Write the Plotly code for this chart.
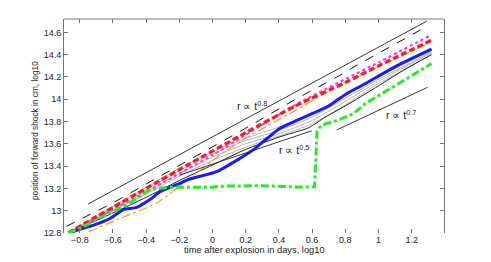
import plotly.graph_objects as go

# ---- data (log10 days, log10 cm) ----
red_x = [-0.87, -0.72, -0.6, -0.4, -0.15, 0.2, 0.5, 0.8, 1.0, 1.32]
red_y = [12.80, 12.93, 13.03, 13.20, 13.41, 13.70, 13.94, 14.15, 14.30, 14.53]

blackdash_x = [-0.88, -0.6, -0.4, -0.1, 0.2, 0.5, 0.8, 0.84, 1.0, 1.30]
blackdash_y = [12.86, 13.07, 13.24, 13.49, 13.74, 14.00, 14.24, 14.28, 14.41, 14.66]

magenta_x = [-0.87, -0.6, -0.4, 0.0, 0.5, 1.0, 1.31]
magenta_y = [12.80, 13.01, 13.17, 13.50, 13.95, 14.33, 14.57]

orange_x = [-0.745, -0.557, -0.336, -0.146, 0.0, 0.166, 0.5, 0.7, 1.0, 1.30]
orange_y = [12.81, 12.93, 13.07, 13.28, 13.45, 13.62, 13.90, 14.07, 14.29, 14.50]

blue_x = [-0.868, -0.717, -0.617, -0.537, -0.457, -0.377, -0.316, -0.256, -0.196, -0.146,
          0.025, 0.166, 0.25, 0.33, 0.407, 0.507, 0.6, 0.7, 0.808, 0.908, 1.11, 1.32]
blue_y = [12.80, 12.87, 12.93, 13.01, 13.03, 13.10, 13.17, 13.21, 13.245, 13.28,
          13.35, 13.47, 13.55, 13.65, 13.74, 13.81, 13.87, 13.94, 14.05, 14.13, 14.30, 14.45]

green_x = [-0.87, -0.8, -0.658, -0.517, -0.377, -0.27, 0.0, 0.05, 0.3, 0.55, 0.6, 0.615,
           0.63, 0.66, 0.75, 0.85, 0.92, 1.0, 1.11, 1.32]
green_y = [12.80, 12.84, 12.95, 13.05, 13.19, 13.21, 13.21, 13.22, 13.225, 13.21, 13.215, 13.215,
           13.72, 13.77, 13.81, 13.87, 13.96, 14.03, 14.13, 14.32]

blackcurve_x = [-0.87, -0.6, -0.4, -0.2, 0.0, 0.2, 0.4, 0.58, 0.68, 0.8, 1.0, 1.15, 1.32]
blackcurve_y = [12.80, 12.98, 13.12, 13.27, 13.41, 13.55, 13.66, 13.745, 13.84, 13.94, 14.12, 14.26, 14.40]

grey_x = [-0.87, -0.6, -0.4, -0.2, 0.0, 0.2, 0.4, 0.6, 0.8, 1.0, 1.2, 1.32]
grey_ys = [
    [12.80, 13.00, 13.15, 13.31, 13.45, 13.57, 13.67, 13.78, 13.95, 14.14, 14.30, 14.41],
    [12.80, 13.01, 13.17, 13.33, 13.48, 13.60, 13.69, 13.81, 13.98, 14.16, 14.32, 14.42],
    [12.80, 13.03, 13.19, 13.36, 13.51, 13.63, 13.72, 13.84, 14.01, 14.18, 14.33, 14.43],
    [12.80, 13.04, 13.21, 13.38, 13.53, 13.65, 13.75, 13.87, 14.03, 14.20, 14.35, 14.44],
]

# power-law guide lines
ref08_x = [-0.75, 1.29]
ref08_y = [13.06, 14.70]
ref05_x = [-0.2, 0.598]
ref05_y = [13.318, 13.717]
ref07_x = [0.748, 1.296]
ref07_y = [13.724, 14.107]

labels_text = ["r \u221d t<sup>0.8</sup>", "r \u221d t<sup>0.5</sup>", "r \u221d t<sup>0.7</sup>"]
labels_x = [0.238, 0.49, 1.135]
labels_y = [13.94, 13.55, 13.86]

x_title = "time after explosion in days, log10"
y_title = "position of forward shock in cm, log10"

fig = go.Figure()

for gy in grey_ys:
    fig.add_trace(go.Scatter(x=grey_x, y=gy, mode="lines",
                             line=dict(color="#b5b5b5", width=1, shape="spline", smoothing=0.6)))
fig.add_trace(go.Scatter(x=blackcurve_x, y=blackcurve_y, mode="lines",
                         line=dict(color="#222222", width=1, shape="spline", smoothing=0.6)))
fig.add_trace(go.Scatter(x=orange_x, y=orange_y, mode="lines",
                         line=dict(color="#ff9933", width=1.2, dash="dashdot",
                                   shape="spline", smoothing=0.6)))
fig.add_trace(go.Scatter(x=blackdash_x, y=blackdash_y, mode="lines",
                         line=dict(color="#111111", width=1, dash="dash")))
fig.add_trace(go.Scatter(x=magenta_x, y=magenta_y, mode="lines",
                         line=dict(color="#ff33ff", width=2.2, dash="dot",
                                   shape="spline", smoothing=0.6)))
fig.add_trace(go.Scatter(x=red_x, y=red_y, mode="lines",
                         line=dict(color="#ff1a1a", width=3.2, dash="6px,3px",
                                   shape="spline", smoothing=0.6)))
fig.add_trace(go.Scatter(x=blue_x, y=blue_y, mode="lines",
                         line=dict(color="#1a1aff", width=3, shape="spline", smoothing=0.6)))
fig.add_trace(go.Scatter(x=green_x, y=green_y, mode="lines",
                         line=dict(color="#22ee22", width=3, dash="8px,3px,3px,3px")))
for rx, ry in [(ref08_x, ref08_y), (ref05_x, ref05_y), (ref07_x, ref07_y)]:
    fig.add_trace(go.Scatter(x=rx, y=ry, mode="lines",
                             line=dict(color="#222222", width=0.9)))

for t, lx, ly in zip(labels_text, labels_x, labels_y):
    fig.add_annotation(x=lx, y=ly, text=t, showarrow=False,
                       font=dict(size=10.5, color="#222222"))

# axis titles placed as paper annotations
fig.add_annotation(xref="paper", yref="paper", x=0.5, y=-0.079, text=x_title,
                   showarrow=False, xanchor="center", yanchor="middle",
                   font=dict(size=9.3, color="#222222"))
fig.add_annotation(xref="paper", yref="paper", x=-0.076, y=0.477, text=y_title,
                   showarrow=False, xanchor="center", yanchor="middle", textangle=-90,
                   font=dict(size=8.3, color="#222222"))

# top frame line (no bottom line in reference)
fig.add_shape(type="line", xref="paper", yref="paper", x0=0, x1=1, y0=1, y1=1,
              line=dict(color="#777777", width=1))

# page has an 8px body margin, so the figure is 8px smaller than the window
fig.update_layout(
    width=483, height=254,
    margin=dict(l=56, r=47, t=11, b=29),
    paper_bgcolor="white", plot_bgcolor="white",
    showlegend=False,
    font=dict(family="Liberation Sans, Arial, sans-serif", size=9, color="#222222"),
    xaxis=dict(range=[-0.895, 1.395], tick0=-0.8, dtick=0.2, automargin=False,
               ticks="inside", ticklen=4, tickcolor="#777777", mirror="ticks",
               showline=False, showgrid=False, zeroline=False,
               tickfont=dict(size=9)),
    yaxis=dict(range=[12.8, 14.72], tick0=12.8, dtick=0.2, automargin=False,
               ticks="inside", ticklen=4, tickcolor="#777777", mirror="ticks",
               showline=True, linecolor="#777777", linewidth=1,
               showgrid=False, zeroline=False,
               tickfont=dict(size=9)),
)

fig.write_html("out.html")
